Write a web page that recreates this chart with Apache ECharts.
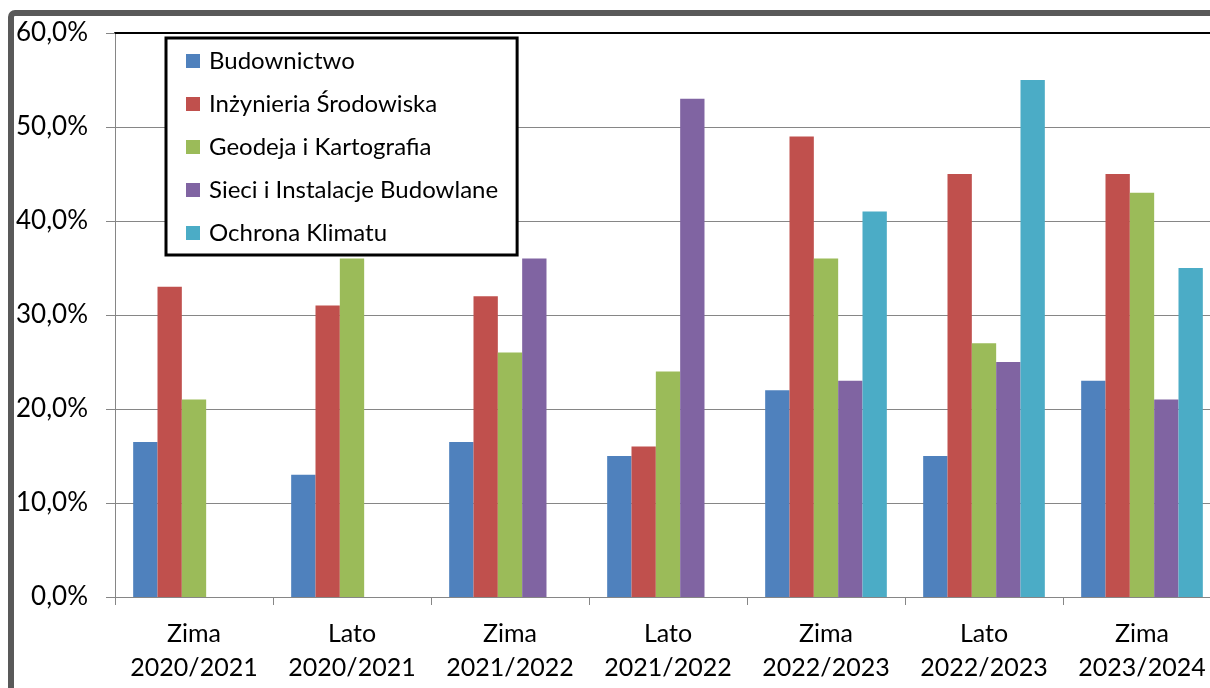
<!DOCTYPE html>
<html>
<head>
<meta charset="utf-8">
<script src="https://cdn.jsdelivr.net/npm/echarts@6/dist/echarts.min.js"></script>
<style>
  html, body { margin: 0; padding: 0; background: #fff; }
  #chart { width: 1210px; height: 688px; }
</style>
</head>
<body>
<div id="chart"></div>
<script>
// semestry
const categories = [
  'Zima\n2020/2021', 'Lato\n2020/2021', 'Zima\n2021/2022', 'Lato\n2021/2022',
  'Zima\n2022/2023', 'Lato\n2022/2023', 'Zima\n2023/2024'
]
const seriesNames = [
  'Budownictwo', 'Inżynieria Środowiska', 'Geodeja i Kartografia',
  'Sieci i Instalacje Budowlane', 'Ochrona Klimatu'
]
// wartosci w %
const budownictwo = [16.5, 13, 16.5, 15, 22, 15, 23]
const inzynieria = [33, 31, 32, 16, 49, 45, 45]
const geodezja = [21, 36, 26, 24, 36, 27, 43]
const sieci = [null, null, 36, 53, 23, 25, 21]
const klimat = [null, null, null, null, 41, 55, 35]
const yTicks = [0, 10, 20, 30, 40, 50, 60]

const colors = ['#4F81BD', '#C0504D', '#9BBB59', '#8064A2', '#4BACC6']
const values = [budownictwo, inzynieria, geodezja, sieci, klimat]
const font = 'Lato, "Noto Sans", sans-serif'

let chart = echarts.init(document.getElementById('chart'))
chart.setOption({
  animation: false,
  color: colors,
  textStyle: { fontFamily: font },
  grid: {
    left: 115,
    top: 33,
    width: 1106,
    height: 564,
    containLabel: false,
    outerBoundsMode: 'none'
  },
  legend: {
    data: seriesNames,
    orient: 'vertical',
    left: 166,
    top: 38,
    itemWidth: 14,
    itemHeight: 14,
    itemGap: 19,
    icon: 'rect',
    padding: [11, 19, 10, 20],
    borderColor: '#000',
    borderWidth: 3,
    backgroundColor: '#fff',
    textStyle: {
      fontSize: 24,
      color: '#000',
      fontFamily: font,
      lineHeight: 22,
      padding: [0, 0, 0, 4]
    }
  },
  xAxis: [
    {
      type: 'category',
      data: categories,
      axisLine: { lineStyle: { color: '#868686', width: 1 } },
      axisTick: { show: true, length: 8, lineStyle: { color: '#868686' } },
      axisLabel: {
        interval: 0,
        color: '#000',
        fontSize: 25,
        lineHeight: 34,
        margin: 20,
        fontFamily: font
      }
    },
    {
      type: 'category',
      data: categories,
      position: 'top',
      axisLine: { lineStyle: { color: '#000', width: 2 } },
      axisTick: { show: false },
      axisLabel: { show: false }
    }
  ],
  yAxis: {
    type: 'value',
    min: 0,
    max: 60,
    interval: 10,
    axisLine: { show: true, lineStyle: { color: '#868686' } },
    axisTick: { show: true, length: 9, lineStyle: { color: '#868686' } },
    splitLine: { lineStyle: { color: '#868686' } },
    axisLabel: {
      color: '#000',
      fontSize: 26,
      margin: 27,
      fontFamily: font,
      formatter: function(v) {
        return yTicks.indexOf(v) > -1 ? v.toFixed(1).replace('.', ',') + '%' : ''
      }
    }
  },
  series: seriesNames.map(function(name, i) {
    return {
      name: name,
      type: 'bar',
      data: values[i],
      barGap: 0,
      barCategoryGap: '23%',
      itemStyle: { color: colors[i] }
    }
  }),
  graphic: [
    {
      type: 'rect',
      shape: { x: 11, y: 13, width: 1400, height: 900, r: 4 },
      style: { fill: 'none', stroke: '#595959', lineWidth: 6 },
      z: 100
    }
  ]
})
</script>
</body>
</html>
